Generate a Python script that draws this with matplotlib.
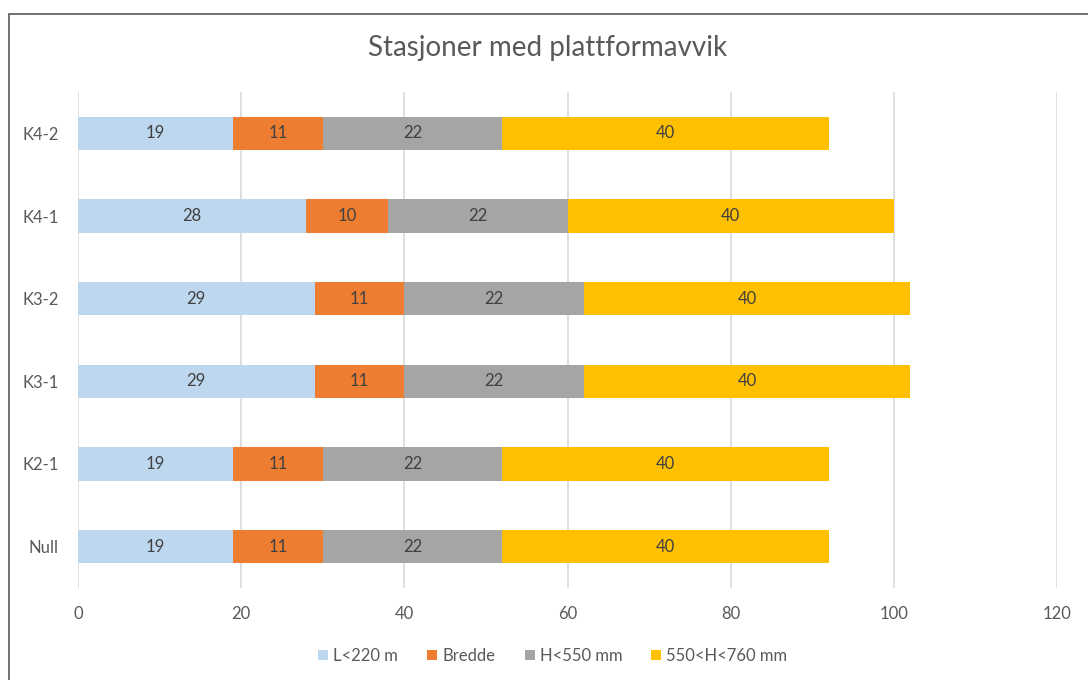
import matplotlib
matplotlib.use("Agg")
import matplotlib.pyplot as plt
import numpy as np
from matplotlib.patches import Rectangle

categories = ["Null", "K2-1", "K3-1", "K3-2", "K4-1", "K4-2"]
series_names = ["L<220 m", "Bredde", "H<550 mm", "550<H<760 mm"]
l220 = [19, 19, 29, 29, 28, 19]
bredde = [11, 11, 11, 11, 10, 11]
h550 = [22, 22, 22, 22, 22, 22]
h550_760 = [40, 40, 40, 40, 40, 40]
colors = ["#BDD7EE", "#ED7D31", "#A5A5A5", "#FFC000"]
x_ticks = [0, 20, 40, 60, 80, 100, 120]

plt.rcParams["font.family"] = ["Lato", "DejaVu Sans"]

fig = plt.figure(figsize=(10.88, 6.8), dpi=100)
ax = fig.add_axes([78 / 1088, 1 - 588 / 680, (1057 - 78) / 1088, (588 - 92) / 680])

# chart-area frame (left and top edges visible)
fig.patches.append(Rectangle((9 / 1088, -0.1), 1.2, 1 - 14 / 680 + 0.1,
                             transform=fig.transFigure, fill=False,
                             edgecolor="#595959", linewidth=1.2, zorder=0))

y = np.arange(len(categories))
left = np.zeros(len(categories))
for name, vals, col in zip(series_names, [l220, bredde, h550, h550_760], colors):
    vals = np.array(vals, dtype=float)
    ax.barh(y, vals, left=left, height=0.4, color=col, label=name, zorder=2)
    for yi, (l, v) in enumerate(zip(left, vals)):
        ax.text(l + v / 2, yi, f"{int(v)}", ha="center", va="center",
                fontsize=12, color="#404040", zorder=3)
    left += vals

ax.set_xlim(0, 120)
ax.set_ylim(-0.5, 5.5)
ax.set_xticks(x_ticks)
ax.set_yticks(y)
ax.set_yticklabels(categories)
ax.grid(axis="x", color="#D9D9D9", linewidth=1.2, zorder=0)
ax.set_axisbelow(True)
for s in ax.spines.values():
    s.set_visible(False)
ax.tick_params(axis="both", length=0, labelsize=12, colors="#595959")
ax.tick_params(axis="x", pad=13)
ax.tick_params(axis="y", pad=14)

fig.text(548 / 1088, 1 - 48 / 680, "Stasjoner med plattformavvik", ha="center",
         va="center", fontsize=20, color="#595959")

leg = fig.legend(loc="center", bbox_to_anchor=(553 / 1088, 1 - 656 / 680), ncol=4,
                 frameon=False, fontsize=12, handlelength=0.6, handleheight=0.6,
                 handletextpad=0.3, columnspacing=1.75, labelcolor="#595959")

fig.savefig("out.png", dpi=100)
